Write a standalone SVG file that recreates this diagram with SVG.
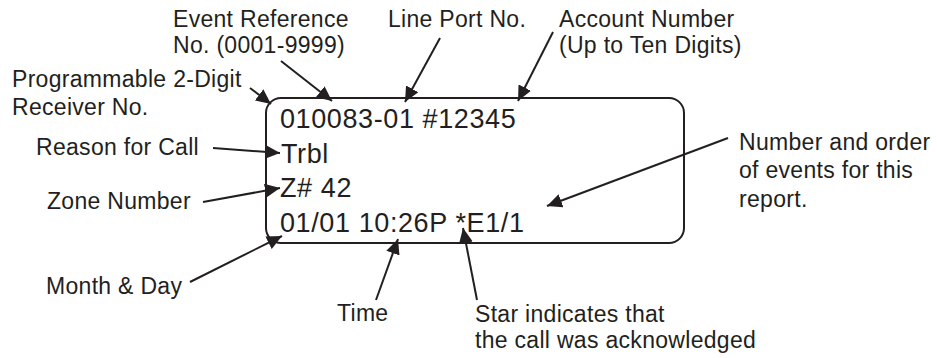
<svg xmlns="http://www.w3.org/2000/svg" width="937" height="358" viewBox="0 0 937 358">
<style>
.lbl{font-family:"Liberation Sans",Arial,sans-serif;font-size:23px;fill:#231f20;letter-spacing:0.3px}
.box{font-family:"Liberation Sans",Arial,sans-serif;font-size:27px;fill:#231f20;letter-spacing:0.6px}
.ln{stroke:#231f20;stroke-width:2;fill:none;marker-end:url(#ah)}
</style>
<defs>
<marker id="ah" markerUnits="userSpaceOnUse" markerWidth="16" markerHeight="14" viewBox="0 0 16 14" refX="15" refY="7" orient="auto">
<path d="M0,0 L15,7 L0,14 Z" fill="#231f20"/>
</marker>
</defs>
<rect width="937" height="358" fill="#fff"/>
<g id="display">
<rect x="266" y="98" width="418" height="145" rx="15" ry="15" fill="none" stroke="#231f20" stroke-width="2"/>
<text class="box" x="280" y="128">010083-01 #12345</text>
<text class="box" x="281" y="163">Trbl</text>
<text class="box" x="280" y="197">Z# 42</text>
<text class="box" x="280" y="232">01/01 10:26P *E1/1</text>
</g>
<g id="event-ref"><text class="lbl" x="173" y="27">Event Reference</text><text class="lbl" x="173" y="53">No. (0001-9999)</text></g>
<g id="line-port"><text class="lbl" x="388" y="27">Line Port No.</text></g>
<g id="account"><text class="lbl" x="559" y="27">Account Number</text><text class="lbl" x="559" y="53">(Up to Ten Digits)</text></g>
<g id="receiver"><text class="lbl" x="12" y="87">Programmable 2-Digit</text><text class="lbl" x="12" y="115">Receiver No.</text></g>
<g id="reason"><text class="lbl" x="36" y="155">Reason for Call</text></g>
<g id="zone"><text class="lbl" x="47" y="209">Zone Number</text></g>
<g id="month"><text class="lbl" x="46" y="294">Month &amp; Day</text></g>
<g id="time"><text class="lbl" x="337" y="321">Time</text></g>
<g id="star"><text class="lbl" x="475" y="322">Star indicates that</text><text class="lbl" x="475" y="348">the call was acknowledged</text></g>
<g id="events"><text class="lbl" x="739" y="150">Number and order</text><text class="lbl" x="739" y="178">of events for this</text><text class="lbl" x="739" y="207">report.</text></g>
<g id="connectors">
<line class="ln" x1="250" y1="88" x2="271" y2="104"/>
<line class="ln" x1="281" y1="61" x2="332" y2="101"/>
<line class="ln" x1="440" y1="38" x2="405" y2="102"/>
<line class="ln" x1="553" y1="32" x2="518" y2="101"/>
<line class="ln" x1="213" y1="148" x2="280" y2="153"/>
<line class="ln" x1="203" y1="202" x2="280" y2="188"/>
<line class="ln" x1="190" y1="282" x2="282" y2="236"/>
<line class="ln" x1="376" y1="300" x2="398" y2="239"/>
<line class="ln" x1="477" y1="300" x2="463" y2="228"/>
<line class="ln" x1="728" y1="138" x2="547" y2="206"/>
</g>
</svg>
